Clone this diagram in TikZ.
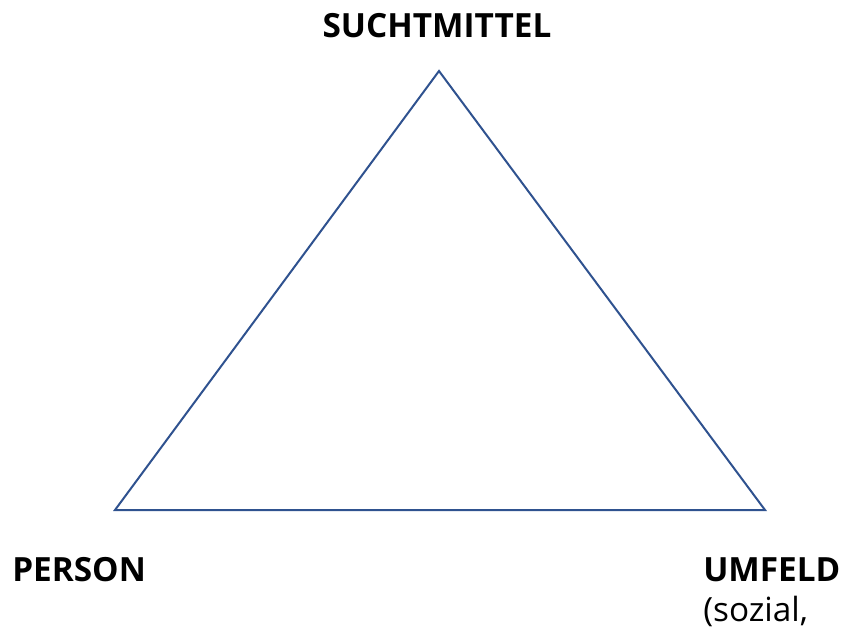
\documentclass[tikz,border=0pt]{standalone}
\usepackage{fontspec}
\setmainfont{Open Sans}
\usetikzlibrary{positioning}
\definecolor{lineblue}{HTML}{2F528F}
\tikzset{
  corner/.style={font=\fontsize{25}{30}\selectfont\bfseries, inner sep=0pt},
  note/.style={font=\fontsize{25}{30}\selectfont, inner sep=0pt},
  edge/.style={draw=lineblue, line width=1.5pt, line join=miter},
}
\begin{document}
\begin{tikzpicture}[x=0.75pt, y=-0.75pt]
  \useasboundingbox (0,0) rectangle (845,643);
  % Corners
  \coordinate (top) at (439,71);
  \coordinate (left) at (115,510);
  \coordinate (right) at (765,510);

  % Triangle
  \draw[edge] (top) -- (left) -- (right) -- cycle;

  % Labels
  \node[corner, anchor=base] (sucht) at (437,37) {SUCHTMITTEL};
  \node[corner, anchor=base west] (person) at (12,581) {PERSON};
  \node[corner, anchor=base west] (umfeld) at (703,581) {UMFELD};
  \node[note, anchor=base west] (sozial) at (703,621) {(sozial,};
\end{tikzpicture}
\end{document}
